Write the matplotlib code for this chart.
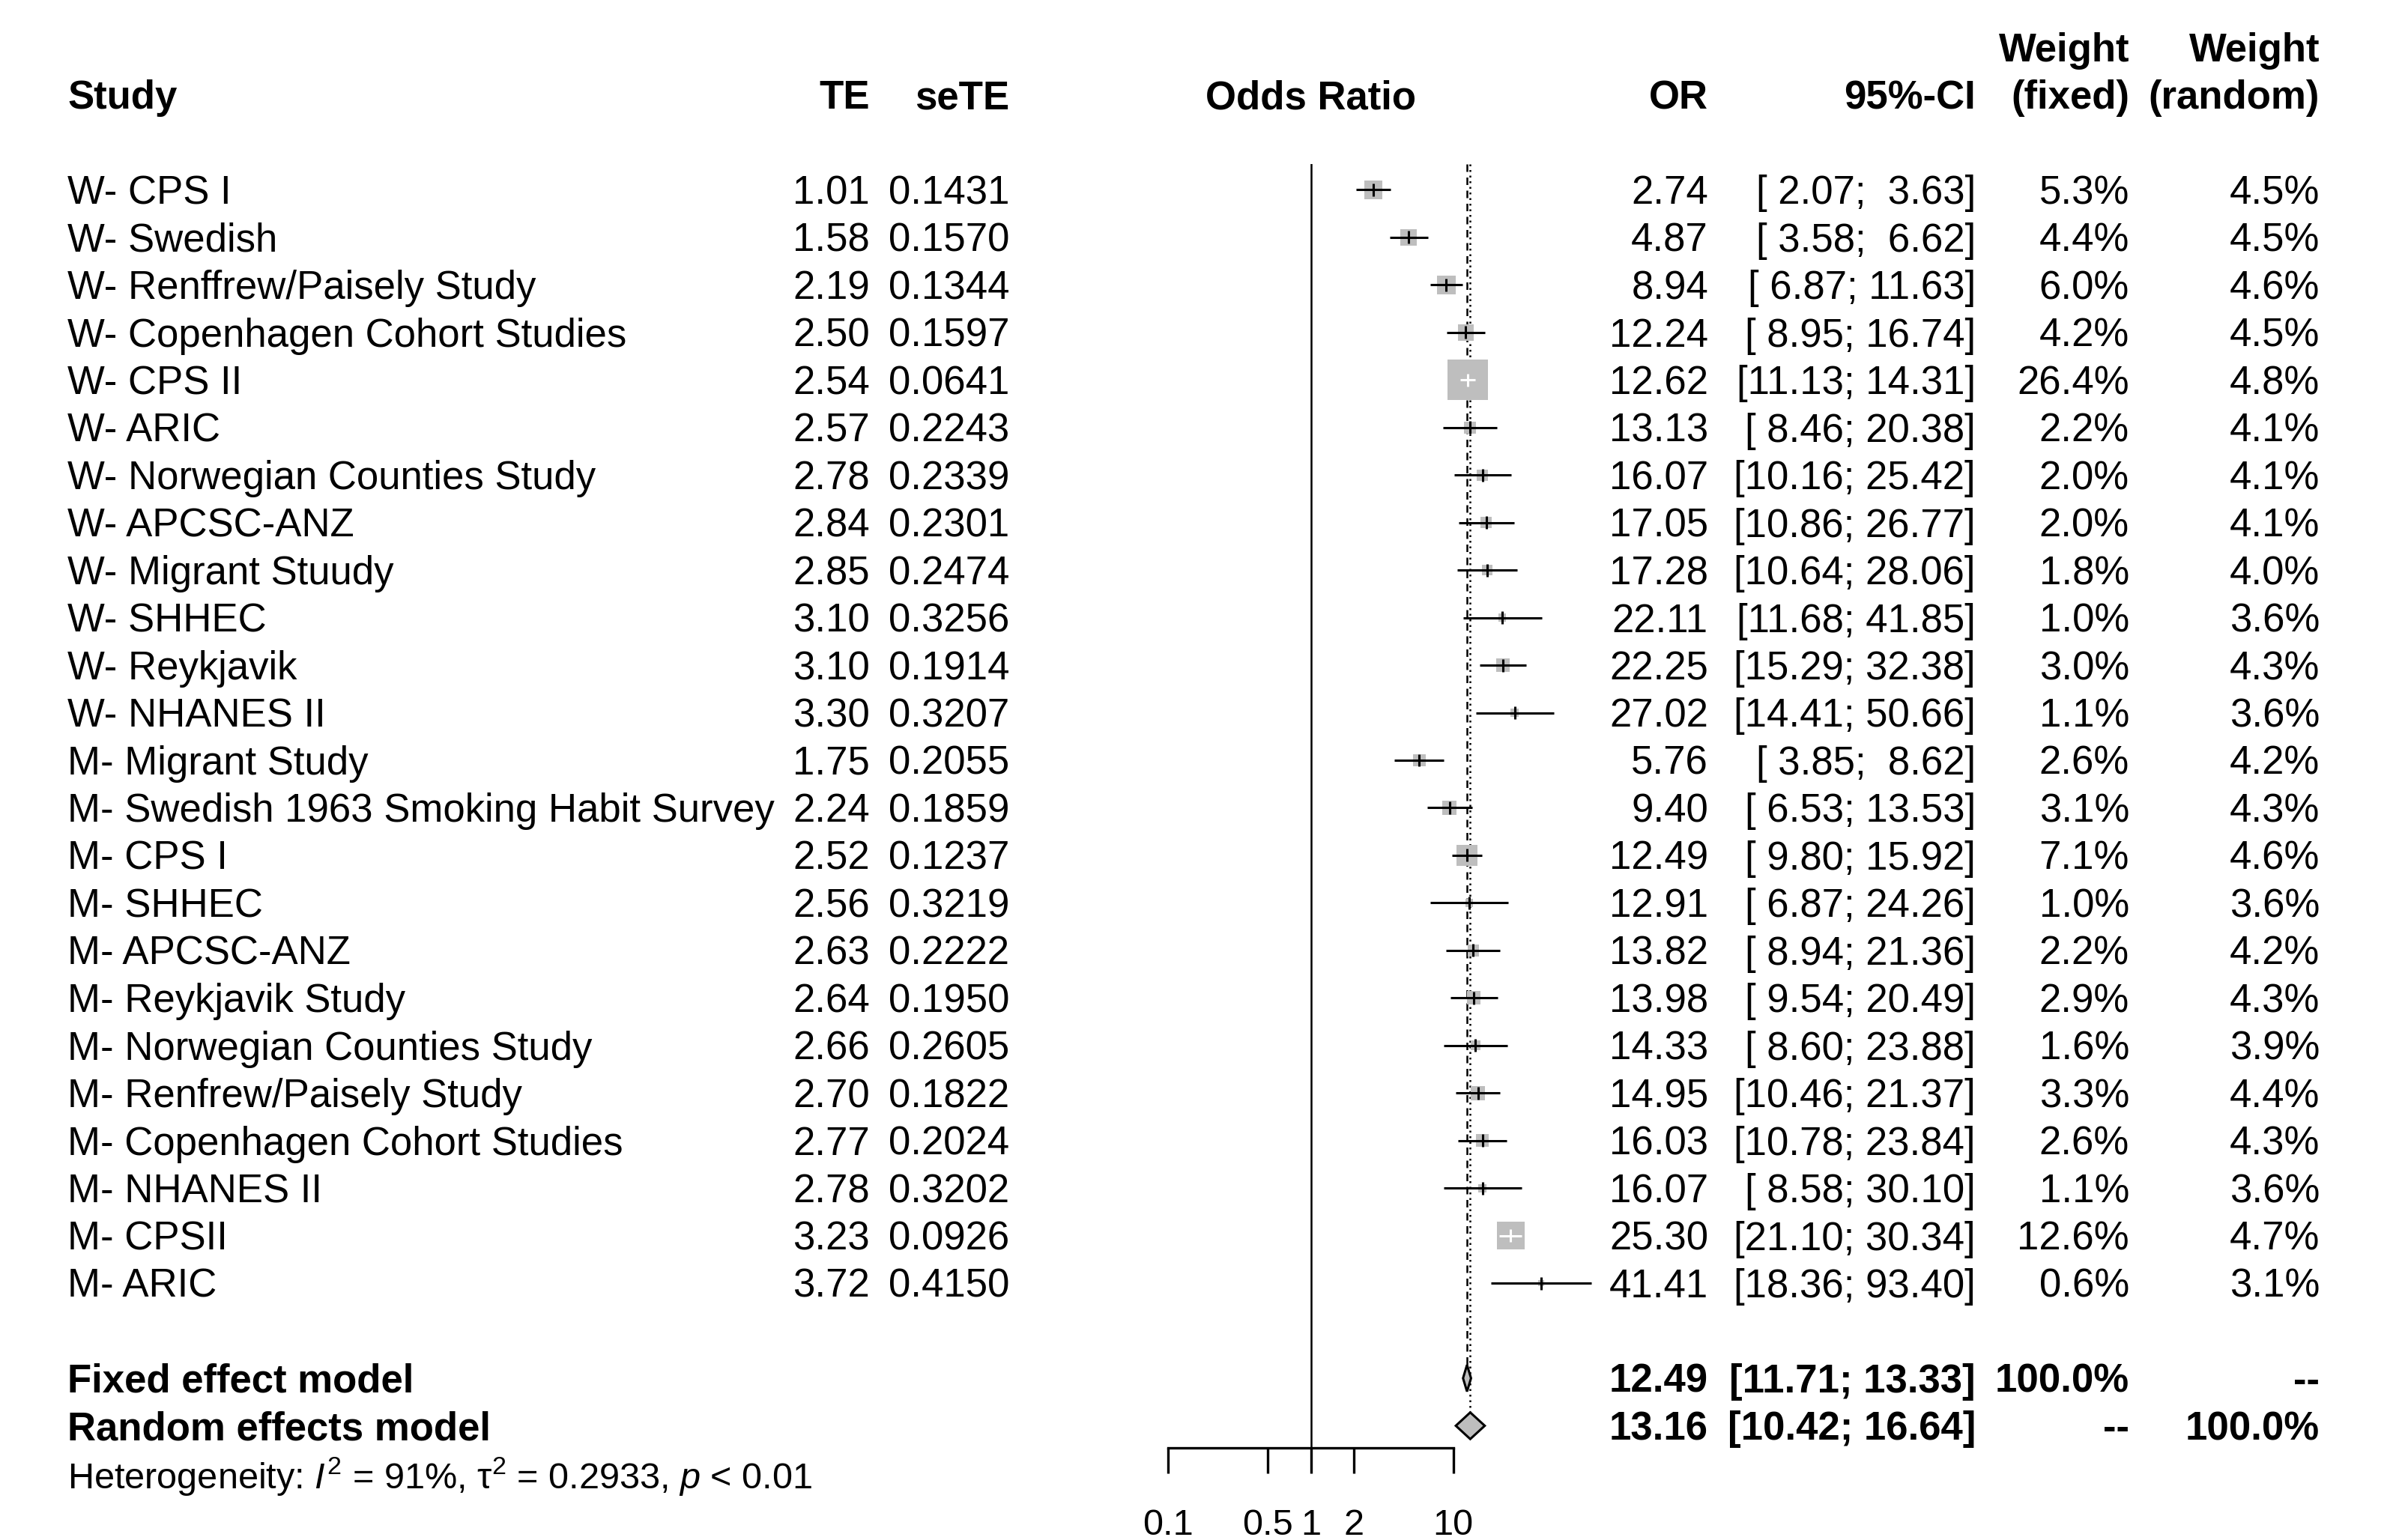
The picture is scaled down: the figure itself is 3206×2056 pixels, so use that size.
import numpy as np
import matplotlib.pyplot as plt
from matplotlib.ticker import NullLocator

plt.rcParams['font.family'] = 'Liberation Sans'
plt.rcParams['mathtext.fontset'] = 'custom'
plt.rcParams['mathtext.rm'] = 'Liberation Sans'
plt.rcParams['mathtext.it'] = 'Liberation Sans:italic'
plt.rcParams['mathtext.bf'] = 'Liberation Sans:bold'

studies = ["W- CPS I", "W- Swedish", "W- Renffrew/Paisely Study", "W- Copenhagen Cohort Studies",
           "W- CPS II", "W- ARIC", "W- Norwegian Counties Study", "W- APCSC-ANZ",
           "W- Migrant Stuudy", "W- SHHEC", "W- Reykjavik", "W- NHANES II",
           "M- Migrant Study", "M- Swedish 1963 Smoking Habit Survey", "M- CPS I", "M- SHHEC",
           "M- APCSC-ANZ", "M- Reykjavik Study", "M- Norwegian Counties Study",
           "M- Renfrew/Paisely Study", "M- Copenhagen Cohort Studies", "M- NHANES II",
           "M- CPSII", "M- ARIC"]
te = [1.01, 1.58, 2.19, 2.50, 2.54, 2.57, 2.78, 2.84, 2.85, 3.10, 3.10, 3.30,
      1.75, 2.24, 2.52, 2.56, 2.63, 2.64, 2.66, 2.70, 2.77, 2.78, 3.23, 3.72]
sete = [0.1431, 0.1570, 0.1344, 0.1597, 0.0641, 0.2243, 0.2339, 0.2301, 0.2474, 0.3256, 0.1914, 0.3207,
        0.2055, 0.1859, 0.1237, 0.3219, 0.2222, 0.1950, 0.2605, 0.1822, 0.2024, 0.3202, 0.0926, 0.4150]
odds = [2.74, 4.87, 8.94, 12.24, 12.62, 13.13, 16.07, 17.05, 17.28, 22.11, 22.25, 27.02,
        5.76, 9.40, 12.49, 12.91, 13.82, 13.98, 14.33, 14.95, 16.03, 16.07, 25.30, 41.41]
ci_low = [2.07, 3.58, 6.87, 8.95, 11.13, 8.46, 10.16, 10.86, 10.64, 11.68, 15.29, 14.41,
          3.85, 6.53, 9.80, 6.87, 8.94, 9.54, 8.60, 10.46, 10.78, 8.58, 21.10, 18.36]
ci_high = [3.63, 6.62, 11.63, 16.74, 14.31, 20.38, 25.42, 26.77, 28.06, 41.85, 32.38, 50.66,
           8.62, 13.53, 15.92, 24.26, 21.36, 20.49, 23.88, 21.37, 23.84, 30.10, 30.34, 93.40]
w_fixed = [5.3, 4.4, 6.0, 4.2, 26.4, 2.2, 2.0, 2.0, 1.8, 1.0, 3.0, 1.1,
           2.6, 3.1, 7.1, 1.0, 2.2, 2.9, 1.6, 3.3, 2.6, 1.1, 12.6, 0.6]
w_random = [4.5, 4.5, 4.6, 4.5, 4.8, 4.1, 4.1, 4.1, 4.0, 3.6, 4.3, 3.6,
            4.2, 4.3, 4.6, 3.6, 4.2, 4.3, 3.9, 4.4, 4.3, 3.6, 4.7, 3.1]

models = ["Fixed effect model", "Random effects model"]
model_or = [12.49, 13.16]
model_lo = [11.71, 10.42]
model_hi = [13.33, 16.64]
model_wf = ["100.0%", "--"]
model_wr = ["--", "100.0%"]
het_text = r"Heterogeneity: $I^2$ = 91%, τ$^2$ = 0.2933, $p$ < 0.01"

tick_vals = [0.1, 0.5, 1, 2, 10]
tick_labels = ["0.1", "0.5", "1", "2", "10"]

W, H, DPI = 3206, 2056, 200
row0, dy = 253.5, 63.46


def row_of(py):
    return (py - row0) / dy


fig = plt.figure(figsize=(W / DPI, H / DPI), dpi=DPI)
txt = fig.add_axes([0, 0, 1, 1])
txt.set_xlim(0, W)
txt.set_ylim(row_of(H), row_of(0))
txt.axis('off')

x0, x1, ytop, ybot = 1559.4, 1939.7, 219, 1933
ax = fig.add_axes([x0 / W, (H - ybot) / H, (x1 - x0) / W, (ybot - ytop) / H])
ax.set_xscale('log')
ax.set_xlim(0.1, 10)
ax.set_ylim(row_of(ybot), row_of(ytop))
ax.patch.set_visible(False)
for s in ['left', 'right', 'top']:
    ax.spines[s].set_visible(False)
ax.spines['bottom'].set_linewidth(1.2)
ax.set_yticks([])
ax.set_xticks(tick_vals)
ax.set_xticklabels(tick_labels)
ax.xaxis.set_minor_locator(NullLocator())
ax.tick_params(axis='x', direction='out', length=12.2, width=1.2, pad=17, labelsize=17.5)

n = len(studies)
rows = np.arange(n)
m_rows = [n + 1, n + 2]
grey = '#BEBEBE'
dh = 0.28

ax.axvline(1, color='black', lw=0.9, zorder=1)
ax.plot([model_or[0]] * 2, [row_of(ytop), m_rows[0] + dh], color='black', lw=0.9,
        dashes=(4, 3), zorder=1, clip_on=False)
ax.plot([model_or[1]] * 2, [row_of(ytop), m_rows[1] - dh], color='black', lw=0.9,
        dashes=(1, 2), zorder=1, clip_on=False)

# squares sized by fixed-effect weight
side_px = 10.5 * np.sqrt(w_fixed)
side_pt = side_px * 72 / DPI
ax.scatter(odds, rows, marker='s', s=side_pt ** 2, color=grey, linewidths=0, zorder=2, clip_on=False)

px_per_dec = (x1 - x0) / 2
half_log = side_px / 2 / px_per_dec
inside = (np.log10(ci_low) >= np.log10(odds) - half_log) & (np.log10(ci_high) <= np.log10(odds) + half_log)
line_cols = ['white' if i else 'black' for i in inside]
ax.hlines(rows, ci_low, ci_high, colors=line_cols, lw=1.1, zorder=3, clip_on=False)
ax.scatter(odds, rows, marker='|', s=6.1 ** 2, c=line_cols, linewidths=1.1, zorder=3, clip_on=False)

for k in range(2):
    y = m_rows[k]
    ax.fill([model_lo[k], model_or[k], model_hi[k], model_or[k]], [y, y - dh, y, y + dh],
            facecolor=grey, edgecolor='black', lw=1.1, zorder=3, clip_on=False)

fs = 19
off = 0.298
cols_x = dict(study=90, te=1161, sete=1347, orr=2280, ci=2637, wf=2842, wr=3096)

# headers
hdr = dict(fontsize=fs, fontweight='bold', va='baseline')
txt.text(cols_x['study'], -2 + off, "Study", ha='left', **hdr)
txt.text(cols_x['te'], -2 + off, "TE", ha='right', **hdr)
txt.text(cols_x['sete'], -2 + off, "seTE", ha='right', **hdr)
ax.text(1, -2 + off, "Odds Ratio", ha='center', **hdr)
txt.text(cols_x['orr'], -2 + off, "OR", ha='right', **hdr)
txt.text(cols_x['ci'], -2 + off, "95%-CI", ha='right', **hdr)
txt.text(cols_x['wf'], -3 + off, "Weight", ha='right', **hdr)
txt.text(cols_x['wf'], -2 + off, "(fixed)", ha='right', **hdr)
txt.text(cols_x['wr'], -3 + off, "Weight", ha='right', **hdr)
txt.text(cols_x['wr'], -2 + off, "(random)", ha='right', **hdr)

for i in range(n):
    y = i + off
    txt.text(cols_x['study'], y, studies[i], ha='left', va='baseline', fontsize=fs)
    txt.text(cols_x['te'], y, f"{te[i]:.2f}", ha='right', va='baseline', fontsize=fs)
    txt.text(cols_x['sete'], y, f"{sete[i]:.4f}", ha='right', va='baseline', fontsize=fs)
    txt.text(cols_x['orr'], y, f"{odds[i]:.2f}", ha='right', va='baseline', fontsize=fs)
    txt.text(cols_x['ci'], y, f"[{ci_low[i]:5.2f}; {ci_high[i]:5.2f}]", ha='right', va='baseline', fontsize=fs)
    txt.text(cols_x['wf'], y, f"{w_fixed[i]:.1f}%", ha='right', va='baseline', fontsize=fs)
    txt.text(cols_x['wr'], y, f"{w_random[i]:.1f}%", ha='right', va='baseline', fontsize=fs)

for k in range(2):
    y = m_rows[k] + off
    txt.text(cols_x['study'], y, models[k], ha='left', **hdr)
    txt.text(cols_x['orr'], y, f"{model_or[k]:.2f}", ha='right', **hdr)
    txt.text(cols_x['ci'], y, f"[{model_lo[k]:5.2f}; {model_hi[k]:5.2f}]", ha='right', **hdr)
    txt.text(cols_x['wf'], y, model_wf[k], ha='right', **hdr)
    txt.text(cols_x['wr'], y, model_wr[k], ha='right', **hdr)

txt.text(cols_x['study'], n + 3 + 0.32, het_text, ha='left', va='baseline', fontsize=17.5)

fig.savefig('out.png', dpi=DPI)
